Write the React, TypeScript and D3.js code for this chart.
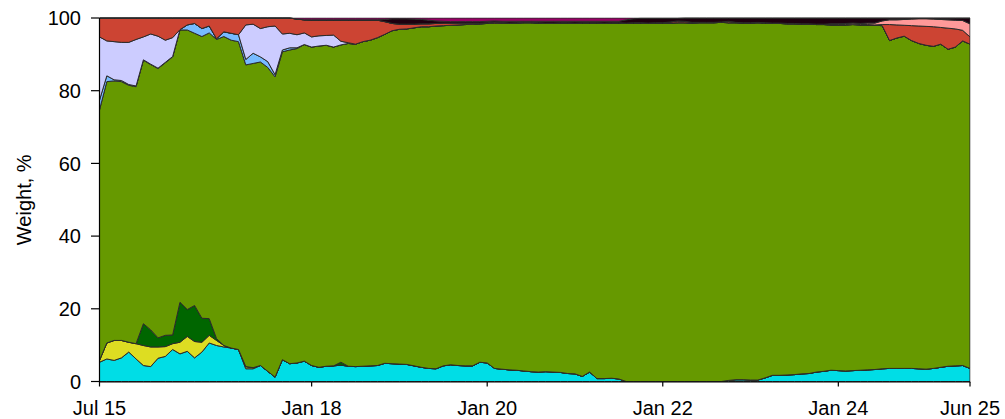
import React from "react";
import * as d3 from "d3";

const tickIndex = [0, 29, 53, 77, 101, 119];
const tickLabels = ["Jul 15", "Jan 18", "Jan 20", "Jan 22", "Jan 24", "Jun 25"];
const yTicks = [0, 20, 40, 60, 80, 100];

const cyan = [
  5.3, 6.2, 5.8, 6.5, 8.1, 6.2, 4.4, 4.1, 6.4, 6.9,
  8.8, 7.6, 8.3, 6.5, 8.1, 10.6, 9.9, 9.5, 9.2, 8.8,
  3.5, 3.5, 4.4, 2.8, 1.2, 6.0, 4.9, 5.1, 5.6, 4.4,
  3.9, 4.2, 4.3, 4.5, 4.2, 4.1, 4.2, 4.3, 4.4, 5.0,
  4.9, 4.8, 4.7, 4.3, 3.9, 3.6, 3.5, 4.3, 4.6, 4.4,
  4.3, 4.3, 5.3, 5.1, 3.6, 3.4, 3.2, 3.1, 2.9, 2.7,
  2.6, 2.7, 2.6, 2.5, 2.2, 2.1, 1.4, 2.6, 0.8, 0.8,
  0.9, 0.7, 0, 0, 0, 0, 0, 0, 0, 0,
  0, 0, 0, 0, 0, 0, 0.3, 0.5, 0.5, 0.4,
  0.4, 1.0, 1.7, 1.7, 1.8, 1.9, 2.1, 2.2, 2.6, 2.8,
  3.1, 3.0, 2.9, 3.0, 3.1, 3.2, 3.3, 3.5, 3.6, 3.6,
  3.6, 3.6, 3.5, 3.4, 3.6, 3.9, 4.2, 4.3, 4.4, 3.6,
];

const yellow = [
  0.5, 4.4, 5.5, 4.8, 2.7, 4.2, 5.5, 5.4, 3.1, 2.7,
  1.6, 3.2, 4.1, 4.5, 2.7, 2.1, 1.4, 0.4, 0, 0,
  0.6, 0.3, 0, 0, 0, 0, 0, 0, 0, 0,
  0, 0, 0, 0, 0, 0, 0, 0, 0, 0,
  0, 0, 0, 0, 0, 0, 0, 0, 0, 0,
  0, 0, 0, 0, 0, 0, 0, 0, 0, 0,
  0, 0, 0, 0, 0, 0, 0, 0, 0, 0,
  0, 0, 0, 0, 0, 0, 0, 0, 0, 0,
  0, 0, 0, 0, 0, 0, 0, 0, 0, 0,
  0, 0, 0, 0, 0, 0, 0, 0, 0, 0,
  0, 0, 0, 0, 0, 0, 0, 0, 0, 0,
  0, 0, 0, 0, 0, 0, 0, 0, 0, 0,
];

const darkGreen = [
  0, 0, 0, 0, 0, 0, 6.0, 4.7, 2.5, 3.1,
  2.4, 11.0, 7.4, 9.9, 6.6, 4.6, 0.5, 0, 0, 0,
  0, 0, 0, 0, 0, 0, 0, 0, 0, 0,
  0, 0, 0, 0.8, 0, 0, 0, 0, 0, 0,
  0, 0, 0, 0, 0, 0, 0, 0, 0, 0,
  0, 0, 0, 0, 0, 0, 0, 0, 0, 0,
  0, 0, 0, 0, 0, 0, 0, 0, 0, 0,
  0, 0, 0, 0, 0, 0, 0, 0, 0, 0,
  0, 0, 0, 0, 0, 0, 0, 0, 0, 0,
  0, 0, 0, 0, 0, 0, 0, 0, 0, 0,
  0, 0, 0, 0, 0, 0, 0, 0, 0, 0,
  0, 0, 0, 0, 0, 0, 0, 0, 0, 0,
];

const olive = [
  68.9, 71.9, 71.4, 71.2, 70.7, 70.7, 72.5, 73.0, 74.1, 75.0,
  76.5, 74.9, 76.9, 74.9, 77.5, 78.6, 82.3, 85.0, 84.7, 84.7,
  83.0, 83.7, 83.5, 83.6, 82.6, 84.7, 86.3, 86.5, 87.1, 87.6,
  88.4, 88.3, 87.7, 87.3, 88.8, 88.7, 89.3, 89.6, 90.2, 90.5,
  91.6, 92.1, 92.3, 93.0, 93.7, 94.0, 94.3, 93.6, 93.4, 93.7,
  93.9, 94.0, 93.1, 93.4, 94.9, 95.2, 95.3, 95.5, 95.8, 96.0,
  96.0, 95.8, 95.9, 96.1, 96.4, 96.4, 97.2, 96.0, 97.8, 97.7,
  97.7, 97.9, 98.5, 98.6, 98.6, 98.5, 98.6, 98.6, 98.6, 98.7,
  98.7, 98.6, 98.7, 98.7, 98.7, 98.8, 98.4, 98.2, 98.1, 98.2,
  98.3, 97.6, 96.8, 96.8, 96.6, 96.5, 96.2, 96.1, 95.6, 95.4,
  95.0, 95.1, 95.2, 95.2, 95.0, 94.9, 94.7, 94.4, 90.2, 90.9,
  91.4, 90.2, 89.5, 89.1, 88.6, 88.9, 87.2, 87.7, 89.3, 89.2,
];

const lightBlue = [
  2.7, 1.6, 0.3, 0.3, 0.2, 0.2, 0.1, 0.1, 0.1, 0.1,
  0.1, 0.1, 1.4, 2.7, 2.2, 1.9, 0.2, 1.3, 1.9, 1.9,
  1.5, 2.8, 1.4, 1.6, 0.6, 0.5, 0.6, 0.2, 0, 0,
  0, 0, 0, 0, 0, 0, 0, 0, 0, 0,
  0, 0, 0, 0, 0, 0, 0, 0, 0, 0,
  0, 0, 0, 0, 0, 0, 0, 0, 0, 0,
  0, 0, 0, 0, 0, 0, 0, 0, 0, 0,
  0, 0, 0, 0, 0, 0, 0, 0, 0, 0,
  0, 0, 0, 0, 0, 0, 0, 0, 0, 0,
  0, 0, 0, 0, 0, 0, 0, 0, 0, 0,
  0, 0, 0, 0, 0, 0, 0, 0, 0, 0,
  0, 0, 0, 0, 0, 0, 0, 0, 0, 0,
];

const lavender = [
  17.4, 9.6, 10.5, 10.5, 11.6, 12.8, 6.3, 8.3, 8.8, 6.1,
  5.2, 0, 0, 0, 0, 0, 0, 0, 0, 0,
  9.5, 8.0, 7.8, 9.6, 13.4, 4.4, 4.0, 3.6, 3.2, 2.8,
  2.8, 2.7, 3.3, 1.0, 0.2, 0, 0, 0, 0, 0,
  0, 0, 0, 0, 0, 0, 0, 0, 0, 0,
  0, 0, 0, 0, 0, 0, 0, 0, 0, 0,
  0, 0, 0, 0, 0, 0, 0, 0, 0, 0,
  0, 0, 0, 0, 0, 0, 0, 0, 0, 0,
  0, 0, 0, 0, 0, 0, 0, 0, 0, 0,
  0, 0, 0, 0, 0, 0, 0, 0, 0, 0,
  0, 0, 0, 0, 0, 0, 0, 0, 0, 0,
  0, 0, 0, 0, 0, 0, 0, 0, 0, 0,
];

const red = [
  5.2, 6.3, 6.5, 6.7, 6.7, 5.9, 5.2, 4.4, 5.0, 6.1,
  5.4, 3.2, 1.9, 1.5, 2.9, 2.2, 5.7, 3.8, 4.2, 4.6,
  1.9, 1.7, 2.9, 2.4, 2.2, 4.4, 4.2, 4.3, 3.6, 4.6,
  4.3, 4.2, 4.1, 5.8, 6.2, 6.6, 5.9, 5.5, 4.8, 3.5,
  2.0, 1.4, 1.3, 1.0, 0.8, 0.8, 0.7, 0.7, 0.6, 0.5,
  0.4, 0.3, 0.2, 0.2, 0.4, 0.2, 0.1, 0.1, 0.1, 0.1,
  0.1, 0.1, 0.1, 0.1, 0.1, 0.1, 0.1, 0.1, 0.1, 0.1,
  0.1, 0.1, 0.1, 0.1, 0.1, 0.1, 0.1, 0.1, 0.3, 0.5,
  0.4, 0.2, 0.1, 0.1, 0.1, 0.1, 0.4, 0.1, 0.1, 0.1,
  0.1, 0.1, 0.1, 0.1, 0.1, 0.1, 0.1, 0.1, 0.1, 0.1,
  0.1, 0.1, 0.1, 0.1, 0.1, 0.1, 0.1, 0.3, 4.4, 3.6,
  3.0, 4.1, 4.8, 5.2, 5.4, 4.6, 5.8, 5.0, 2.9, 2.0,
];

const pink = [
  0, 0, 0, 0, 0, 0, 0, 0, 0, 0,
  0, 0, 0, 0, 0, 0, 0, 0, 0, 0,
  0, 0, 0, 0, 0, 0, 0, 0, 0, 0,
  0, 0, 0, 0, 0, 0, 0, 0, 0, 0,
  0, 0, 0, 0, 0, 0, 0, 0, 0, 0,
  0, 0, 0, 0, 0, 0, 0, 0, 0, 0,
  0, 0, 0, 0, 0, 0, 0, 0, 0, 0,
  0, 0, 0, 0, 0, 0, 0, 0, 0, 0,
  0, 0, 0, 0, 0, 0, 0, 0, 0, 0,
  0, 0, 0, 0, 0, 0, 0, 0, 0, 0,
  0.2, 0.2, 0.3, 0.3, 0.3, 0.4, 0.5, 1.0, 1.3, 1.4,
  1.6, 1.8, 2.0, 2.1, 2.1, 2.2, 2.3, 2.4, 2.7, 3.6,
];

const black = [
  0, 0, 0, 0, 0, 0, 0, 0, 0, 0,
  0, 0, 0, 0, 0, 0, 0, 0, 0, 0,
  0, 0, 0, 0, 0, 0, 0, 0, 0, 0.1,
  0.1, 0.1, 0.1, 0.1, 0.1, 0.1, 0.1, 0.1, 0.1, 0.6,
  1.3, 1.5, 1.5, 1.4, 1.2, 1.0, 0.7, 0.5, 0.4, 0.4,
  0.4, 0.4, 0.4, 0.4, 0.3, 0.3, 0.5, 0.4, 0.3, 0.3,
  0.4, 0.5, 0.5, 0.4, 0.4, 0.5, 0.4, 0.4, 0.4, 0.5,
  0.4, 0.4, 0.9, 1.1, 1.2, 1.3, 1.2, 1.2, 1.0, 0.7,
  0.9, 1.2, 1.2, 1.2, 1.2, 1.1, 0.9, 1.2, 1.3, 1.3,
  1.2, 1.3, 1.4, 1.4, 1.5, 1.5, 1.6, 1.6, 1.7, 1.7,
  1.6, 1.6, 1.5, 1.4, 1.5, 1.4, 1.4, 0.8, 0.5, 0.5,
  0.4, 0.3, 0.2, 0.2, 0.3, 0.4, 0.5, 0.6, 0.7, 1.6,
];

const magenta = [
  0, 0, 0, 0, 0, 0, 0, 0, 0, 0,
  0, 0, 0, 0, 0, 0, 0, 0, 0, 0,
  0, 0, 0, 0, 0, 0, 0, 0.3, 0.5, 0.5,
  0.5, 0.5, 0.5, 0.5, 0.5, 0.5, 0.5, 0.5, 0.5, 0.4,
  0.2, 0.2, 0.2, 0.3, 0.4, 0.6, 0.8, 0.9, 1.0, 1.0,
  1.0, 1.0, 1.0, 0.9, 0.8, 0.9, 0.9, 0.9, 0.9, 0.9,
  0.9, 0.9, 0.9, 0.9, 0.9, 0.9, 0.9, 0.9, 0.9, 0.9,
  0.9, 0.9, 0.5, 0.2, 0.1, 0.1, 0.1, 0.1, 0.1, 0.1,
  0, 0, 0, 0, 0, 0, 0, 0, 0, 0,
  0, 0, 0, 0, 0, 0, 0, 0, 0, 0,
  0, 0, 0, 0, 0, 0, 0, 0, 0, 0,
  0, 0, 0, 0, 0, 0, 0, 0, 0, 0,
];

const seriesKeys = [
  "cyan", "yellow", "darkGreen", "olive", "lightBlue",
  "lavender", "red", "pink", "black", "magenta",
];
const seriesValues: Record<string, number[]> = {
  cyan, yellow, darkGreen, olive, lightBlue, lavender, red, pink, black, magenta,
};
const seriesColors: Record<string, string> = {
  cyan: "#00DDE6",
  yellow: "#DDDD22",
  darkGreen: "#006600",
  olive: "#669900",
  lightBlue: "#77BBFF",
  lavender: "#CCCCFF",
  red: "#CC4433",
  pink: "#FF9999",
  black: "#1E0010",
  magenta: "#990066",
};

export default function App() {
  const W = 1005;
  const H = 419;
  const n = cyan.length;
  const x = d3.scaleLinear().domain([0, n - 1]).range([99.5, 970]);
  const y = d3.scaleLinear().domain([0, 100]).range([381.5, 18]);

  const rows = d3.range(n).map((i) => {
    const r: any = { i };
    seriesKeys.forEach((k) => (r[k] = seriesValues[k][i]));
    return r;
  });
  const stacked = d3.stack<any>().keys(seriesKeys)(rows);
  const area = d3
    .area<any>()
    .x((d) => x(d.data.i))
    .y0((d) => y(d[0]))
    .y1((d) => y(d[1]));

  const font = "Arial, 'Liberation Sans', sans-serif";

  return (
    <svg
      width={W}
      height={H}
      style={{ position: "absolute", left: 0, top: 0, background: "#fff" }}
    >
      <defs>
        <clipPath id="plot">
          <rect x={99.5} y={17.5} width={871} height={364.5} />
        </clipPath>
      </defs>
      <g clipPath="url(#plot)">
        {stacked.map((s) => (
          <path
            key={s.key}
            d={area(s) || ""}
            fill={seriesColors[s.key]}
            stroke="#2b2b2b"
            strokeWidth={1}
            strokeLinejoin="round"
          />
        ))}
      </g>
      {/* y axis */}
      <line x1={99.5} x2={99.5} y1={18} y2={382} stroke="#000" strokeWidth={1.2} />
      {yTicks.map((t) => (
        <g key={t}>
          <line x1={91} x2={99.5} y1={y(t)} y2={y(t)} stroke="#000" strokeWidth={1.2} />
          <text
            x={81}
            y={y(t)}
            dy="0.36em"
            textAnchor="end"
            fontFamily={font}
            fontSize={20}
            fill="#000"
          >
            {t}
          </text>
        </g>
      ))}
      <text
        transform={`translate(31,${(y(0) + y(100)) / 2}) rotate(-90)`}
        textAnchor="middle"
        fontFamily={font}
        fontSize={20}
        fill="#000"
      >
        Weight, %
      </text>
      {/* x axis */}
      <line x1={99.5} x2={970.5} y1={382} y2={382} stroke="#000" strokeWidth={1.2} />
      {tickIndex.map((t, k) => (
        <g key={t}>
          <line x1={x(t)} x2={x(t)} y1={382} y2={386.5} stroke="#000" strokeWidth={1.2} />
          <text
            x={x(t)}
            y={415}
            textAnchor="middle"
            fontFamily={font}
            fontSize={20}
            fill="#000"
          >
            {tickLabels[k]}
          </text>
        </g>
      ))}
    </svg>
  );
}
